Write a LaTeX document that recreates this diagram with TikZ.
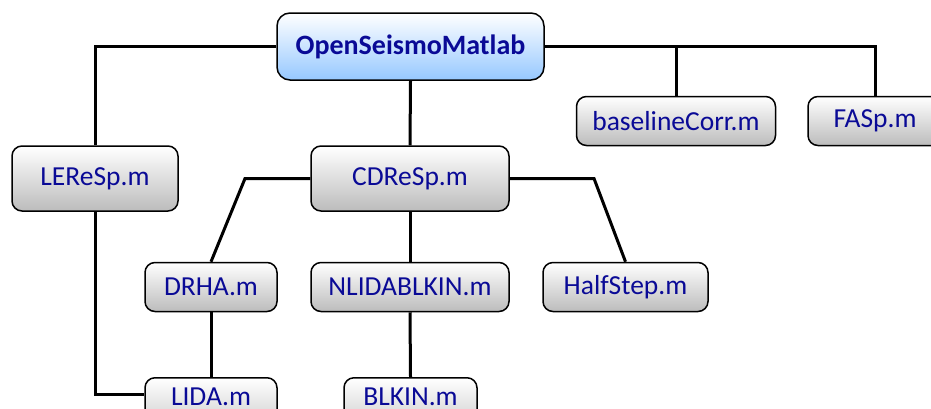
\documentclass[tikz,border=0pt]{standalone}
\usepackage{fontspec}
\setmainfont{Carlito}
\usepackage{tikz}

\definecolor{fntblue}{RGB}{10,10,150}
\definecolor{rootblue}{RGB}{150,200,255}
\definecolor{boxgray}{RGB}{188,188,188}

\tikzset{
  file/.style={draw=black, line width=1.5pt, rounded corners=10pt,
    top color=white, bottom color=boxgray, text=fntblue, inner sep=0pt,
    font=\fontsize{27.5}{30}\selectfont},
  cutfile/.style={file, anchor=north, inner ysep=10pt,
    text height=18pt, text depth=30pt},
  link/.style={line width=3pt},
}

\begin{document}
\begin{tikzpicture}[x=1pt,y=-1pt]

% Frame
\useasboundingbox (0,0) rectangle (931,408);
\clip (0,0) rectangle (931,408);

% Main program
\node[file, minimum width=267pt, minimum height=67pt, rounded corners=13pt,
  bottom color=rootblue, font=\bfseries\fontsize{28}{30}\selectfont]
  (root) at (410.5,46.5) {OpenSeismoMatlab};

% First level
\node[file, minimum width=166pt, minimum height=65pt] (lere) at (95,178.5) {LEReSp.m};
\node[file, minimum width=198pt, minimum height=65pt] (cdr) at (410,178.5) {CDReSp.m};
\node[file, minimum width=199pt, minimum height=49pt] (base) at (676,121) {baselineCorr.m};
\node[file, minimum width=134pt, minimum height=49pt] (fasp) at (875,121) {FASp.m};

% Second level
\node[file, minimum width=132pt, minimum height=49pt] (drha) at (211,287) {DRHA.m};
\node[file, minimum width=198pt, minimum height=49pt] (nlida) at (410,287) {NLIDABLKIN.m};
\node[file, minimum width=165pt, minimum height=49pt] (half) at (625.5,287) {HalfStep.m};

% Third level (cut by the lower edge)
\node[cutfile, minimum width=132pt] (lida) at (211,377) {LIDA.m};
\node[cutfile, minimum width=133pt] (blkin) at (410.5,377) {BLKIN.m};

% Bends
\coordinate (cdl) at (245,178.5);
\coordinate (cdrr) at (594,178.5);

% Links from the main program
\draw[link] (root.west) -| (lere.north);
\draw[link] (root.east) -| (fasp.north);
\draw[link] (root.east) -| (base.north);
\draw[link] (root.south) -- (cdr.north);

% Links below CDReSp
\draw[link] (cdr.west) -- (cdl) -- (drha.north);
\draw[link] (cdr.east) -- (cdrr) -- (half.north);
\draw[link] (cdr.south) -- (nlida.north);
\draw[link] (nlida.south) -- (blkin.north);

% Links to LIDA
\draw[link] (drha.south) -- (lida.north);
\draw[link] (lere.south) |- ([yshift=-17pt]lida.north west);

\end{tikzpicture}
\end{document}
